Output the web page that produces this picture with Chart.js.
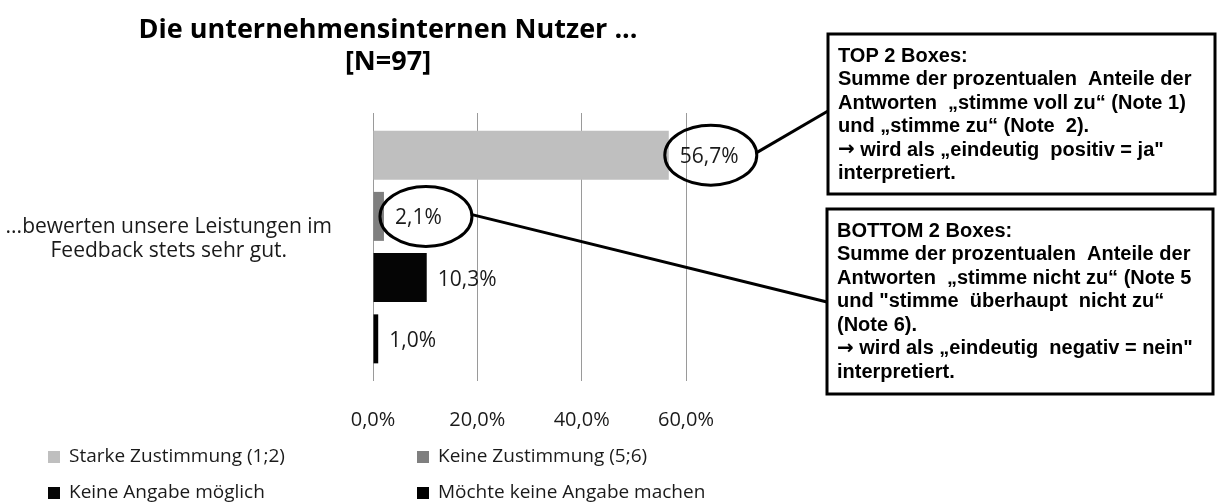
<!DOCTYPE html>
<html>
<head>
<meta charset="utf-8">
<script src="https://cdn.jsdelivr.net/npm/chart.js@4"></script>
<style>
  html, body { margin: 0; padding: 0; background: #fff; }
  canvas { display: block; }
</style>
</head>
<body>
<canvas id="myChart" width="1217" height="504"></canvas>
<script>
const ctx = document.getElementById('myChart');

// data
const categories = [['...bewerten unsere Leistungen im', 'Feedback stets sehr gut.']];
const seriesNames = ['Starke Zustimmung (1;2)', 'Keine Zustimmung (5;6)', 'Keine Angabe möglich', 'Möchte keine Angabe machen'];
const starkeZustimmung = [56.7];
const keineZustimmung = [2.1];
const keineAngabeMoeglich = [10.3];
const keineAngabeMachen = [1.0];
const xTickValues = [0, 20, 40, 60];
const titleLines = ['Die unternehmensinternen Nutzer ...', '[N=97]'];

const topBoxText = [
  'TOP 2 Boxes:',
  'Summe der prozentualen  Anteile der',
  'Antworten  \u201Estimme voll zu\u201C (Note 1)',
  'und \u201Estimme zu\u201C (Note  2).',
  '\u2192 wird als \u201Eeindeutig  positiv = ja"',
  'interpretiert.'
];
const bottomBoxText = [
  'BOTTOM 2 Boxes:',
  'Summe der prozentualen  Anteile der',
  'Antworten  \u201Estimme nicht zu\u201C (Note 5',
  'und "stimme  \u00FCberhaupt  nicht zu\u201C',
  '(Note 6).',
  '\u2192 wird als \u201Eeindeutig  negativ = nein"',
  'interpretiert.'
];

const colors = ['#bfbfbf', '#7f7f7f', '#050505', '#000000'];
const fmt = v => v.toFixed(1).replace('.', ',') + '%';

const boxes = [
  {dataset: 0, x: 828, y: 34, w: 387, h: 160, endY: 111, lines: topBoxText},
  {dataset: 1, x: 827, y: 209, w: 386, h: 185, endY: 302, lines: bottomBoxText}
];

const calloutPlugin = {
  id: 'callouts',
  afterDatasetsDraw(chart) {
    const c = chart.ctx;
    c.save();
    // value labels
    c.font = '21px "Open Sans"';
    c.fillStyle = '#1a1a1a';
    c.textAlign = 'left';
    c.textBaseline = 'middle';
    chart.data.datasets.forEach((ds, i) => {
      chart.getDatasetMeta(i).data.forEach((bar, j) => {
        c.fillText(fmt(ds.data[j]), bar.x + 11, bar.y + 2);
      });
    });

    // circles, lines and text boxes
    c.strokeStyle = '#000';
    c.lineWidth = 3;
    boxes.forEach(b => {
      const bar = chart.getDatasetMeta(b.dataset).data[0];
      const cx = bar.x + 42, cy = bar.y, rx = 46, ry = 30;
      c.beginPath();
      c.ellipse(cx, cy, rx, ry, 0, 0, Math.PI * 2);
      c.stroke();

      // line leaves the circle on its right side
      c.beginPath();
      c.moveTo(cx + rx - 1, cy - 2);
      c.lineTo(b.x, b.endY);
      c.stroke();

      c.fillStyle = '#fff';
      c.fillRect(b.x, b.y, b.w, b.h);
      c.strokeRect(b.x, b.y, b.w, b.h);

      c.fillStyle = '#000';
      b.lines.forEach((line, k) => {
        const y = b.y + 22 + k * 23.5;
        let x = b.x + 10;
        if (line.startsWith('\u2192')) {
          c.font = 'bold 20px "DejaVu Sans"';
          c.fillText('\u2192', x, y);
          x += c.measureText('\u2192').width;
          line = line.slice(1);
        }
        c.font = 'bold 20px "Liberation Sans"';
        c.fillText(line, x, y);
      });
    });
    c.restore();
  },
  afterDraw(chart) {
    const c = chart.ctx;
    c.save();
    c.textBaseline = 'middle';

    // title
    c.textAlign = 'center';
    c.fillStyle = '#000';
    c.font = 'bold 27px "Open Sans"';
    titleLines.forEach((line, k) => c.fillText(line, 388, 30 + k * 32));

    // legend in two columns
    const cols = [48, 417];
    const rows = [457, 493];
    c.font = '19px "Open Sans"';
    c.textAlign = 'left';
    chart.data.datasets.forEach((ds, i) => {
      const x = cols[i % 2], y = rows[Math.floor(i / 2)];
      c.fillStyle = ds.backgroundColor;
      c.fillRect(x, y - 6, 12, 12);
      c.fillStyle = '#1a1a1a';
      c.fillText(ds.label, x + 21, y);
    });
    c.restore();
  }
};

const data = {
  labels: categories,
  datasets: [
    {label: seriesNames[0], data: starkeZustimmung, backgroundColor: colors[0]},
    {label: seriesNames[1], data: keineZustimmung, backgroundColor: colors[1]},
    {label: seriesNames[2], data: keineAngabeMoeglich, backgroundColor: colors[2]},
    {label: seriesNames[3], data: keineAngabeMachen, backgroundColor: colors[3]}
  ]
};

const config = {
  type: 'bar',
  data: data,
  options: {
    indexAxis: 'y',
    responsive: false,
    animation: false,
    categoryPercentage: 0.914,
    barPercentage: 0.8,
    layout: {padding: {left: 0, right: 531, top: 113, bottom: 72}},
    scales: {
      x: {
        min: 0,
        max: 60,
        afterBuildTicks: s => { s.ticks = xTickValues.map(v => ({value: v})); },
        afterFit: s => { s.height = 51; },
        grid: {color: '#9a9a9a', lineWidth: 1, drawTicks: false},
        border: {display: false},
        ticks: {
          padding: 27,
          color: '#1a1a1a',
          font: {family: 'Open Sans', size: 20},
          callback: v => fmt(v)
        }
      },
      y: {
        afterFit: s => { s.width = 373; },
        grid: {display: false},
        border: {display: false},
        ticks: {
          crossAlign: 'center',
          padding: 33,
          labelOffset: -8,
          color: '#1a1a1a',
          font: {family: 'Open Sans', size: 21, lineHeight: 1.143}
        }
      }
    },
    plugins: {
      legend: {display: false},
      tooltip: {enabled: false},
      title: {display: false}
    }
  },
  plugins: [calloutPlugin]
};

const myChart = new Chart(ctx, config);
</script>
</body>
</html>
